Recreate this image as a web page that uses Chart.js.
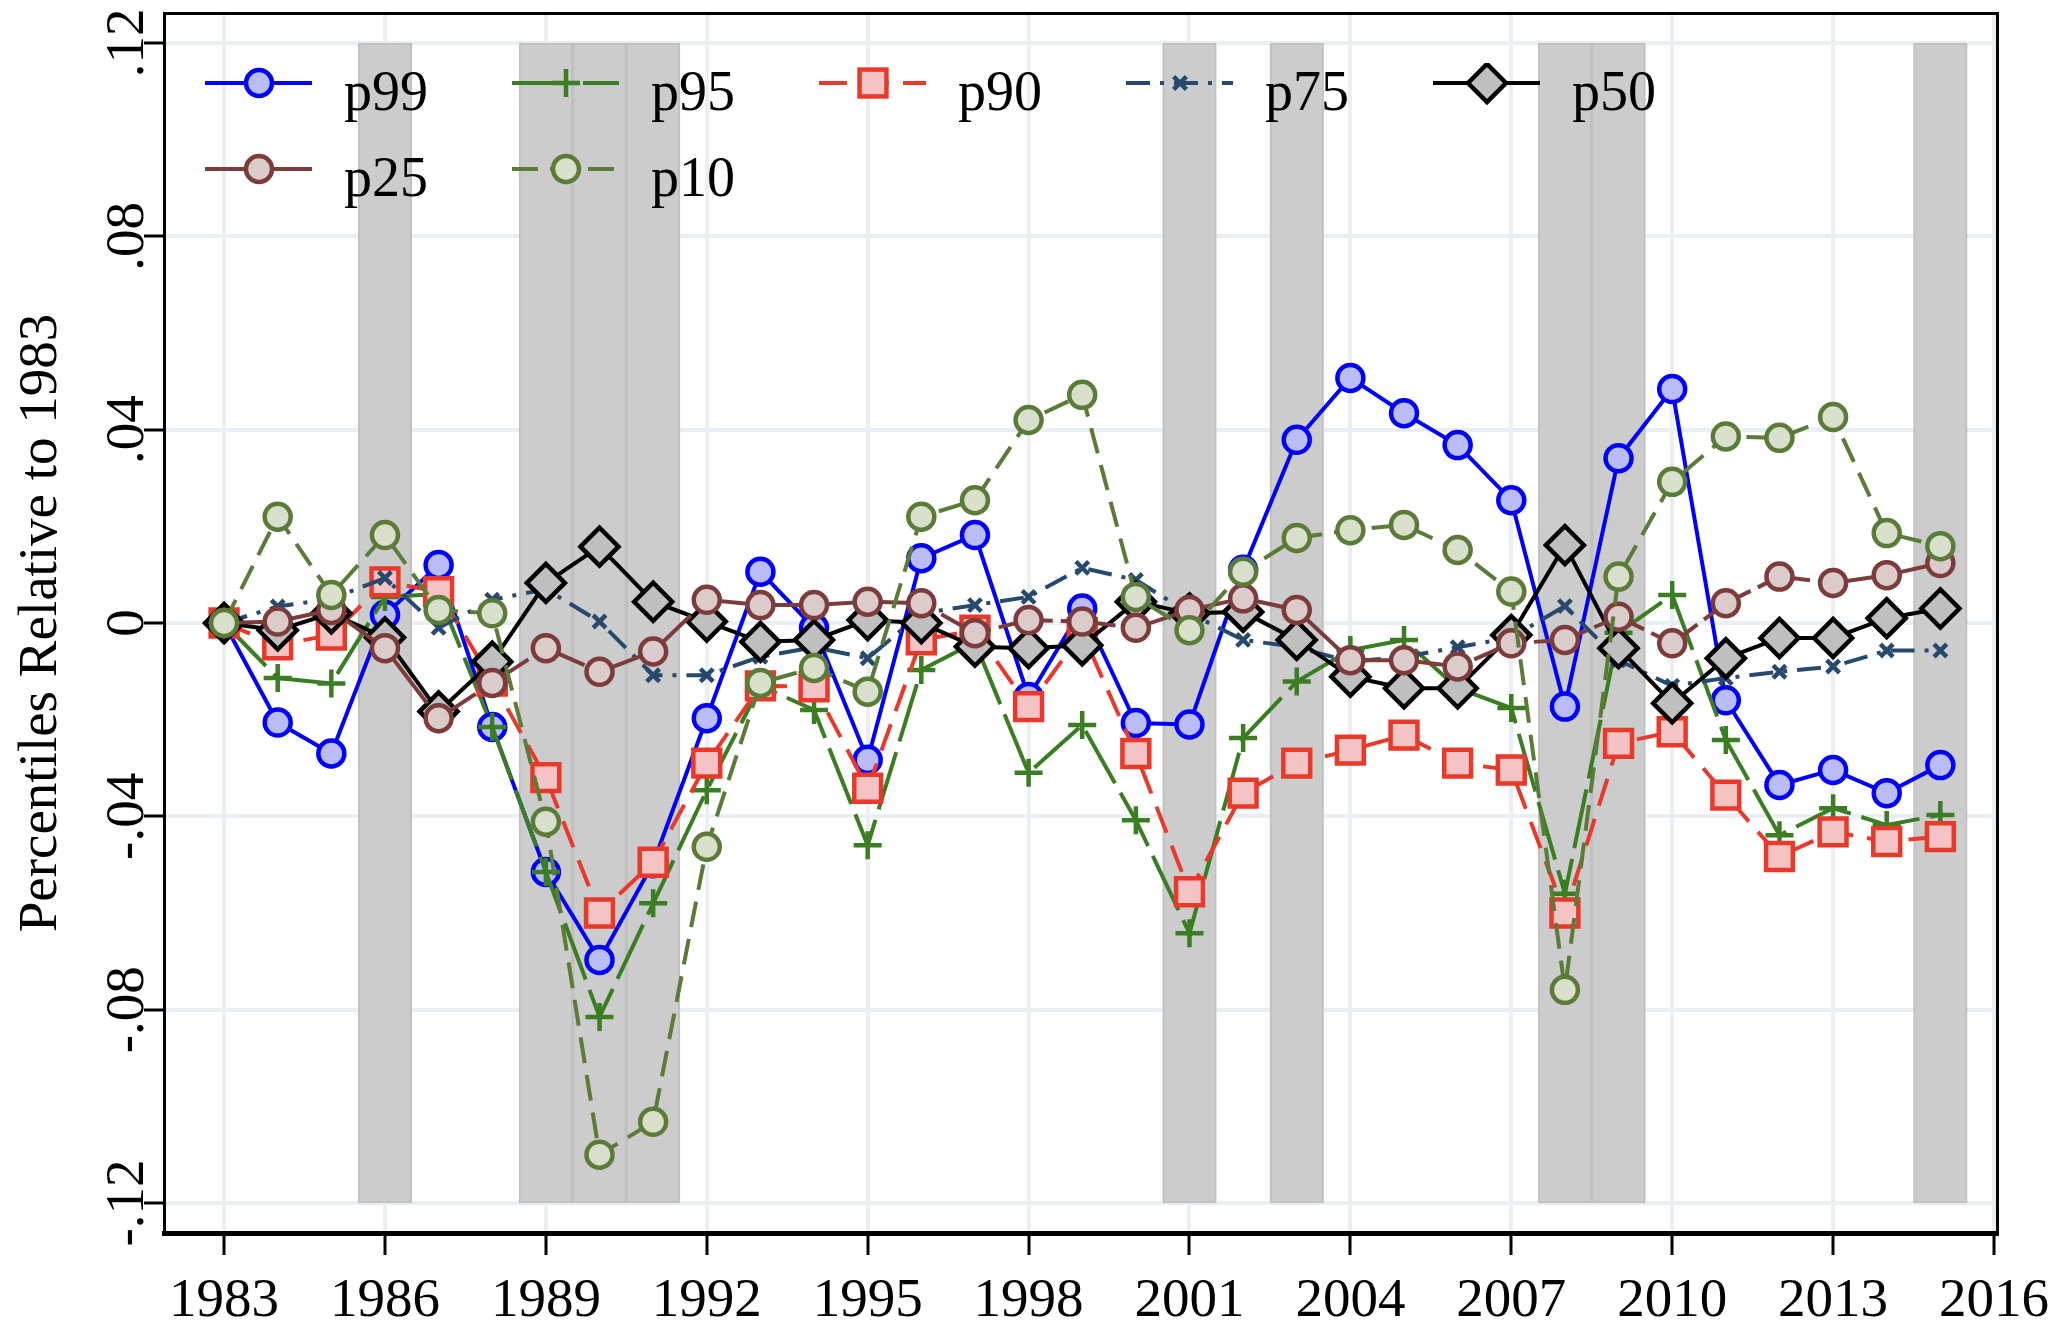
<!DOCTYPE html>
<html>
<head>
<meta charset="utf-8">
<script src="https://cdn.jsdelivr.net/npm/chart.js@4.4.1/dist/chart.umd.min.js"></script>
<style>
  html, body { margin: 0; padding: 0; background: #fff; }
  #wrap { position: relative; width: 2053px; height: 1328px; }
  #legend { position: absolute; left: 0; top: 0; }
  .item { position: absolute; height: 40px; }
  .item svg { position: absolute; left: 0; top: 0; }
  .item span { position: absolute; left: 139px; top: 0; font: 56px/56px "Liberation Serif", "Times New Roman", serif; color: #000; white-space: nowrap; }
</style>
</head>
<body>
<div id="wrap"><canvas id="chart"></canvas><div id="legend"></div></div>
<script>
const years = [1983, 1984, 1985, 1986, 1987, 1988, 1989, 1990, 1991, 1992, 1993, 1994, 1995, 1996, 1997, 1998, 1999,
  2000, 2001, 2002, 2003, 2004, 2005, 2006, 2007, 2008, 2009, 2010, 2011, 2012, 2013, 2014, 2015];

const p99 = [0, -0.0206, -0.027, 0.0017, 0.012, -0.0215, -0.0515, -0.0697, -0.0497, -0.0197,
  0.0106, -0.001, -0.0283, 0.0134, 0.0182, -0.0153, 0.003, -0.0207, -0.021, 0.011,
  0.0379, 0.0507, 0.0434, 0.0368, 0.0254, -0.0173, 0.0341, 0.0484, -0.016, -0.0335,
  -0.0304, -0.0352, -0.0294];
const p95 = [0, -0.0114, -0.0125, 0.0054, 0.006, -0.0215, -0.0515, -0.0815, -0.058, -0.0346,
  -0.013, -0.018, -0.046, -0.0097, -0.004, -0.031, -0.0211, -0.0408, -0.0642, -0.0238,
  -0.0121, -0.0056, -0.0035, -0.0135, -0.0176, -0.056, -0.002, 0.0058, -0.0242, -0.0439,
  -0.0383, -0.0418, -0.0397];
const p90 = [0, -0.0045, -0.0025, 0.0085, 0.0065, -0.012, -0.032, -0.060, -0.0495, -0.029,
  -0.013, -0.0132, -0.0342, -0.0035, -0.0015, -0.0173, -0.002, -0.027, -0.0556, -0.0352,
  -0.029, -0.0263, -0.0232, -0.029, -0.0304, -0.060, -0.0249, -0.0225, -0.0356, -0.0483,
  -0.0432, -0.0452, -0.0442];
const p75 = [0, 0.0034, 0.005, 0.0093, -0.001, 0.0048, 0.007, 0.0003, -0.0108, -0.0108,
  -0.007, -0.005, -0.0073, 0.002, 0.0037, 0.0054, 0.0114, 0.0089, 0.002, -0.0035,
  -0.005, -0.008, -0.007, -0.005, -0.003, 0.0035, -0.0077, -0.013, -0.0114, -0.0101,
  -0.009, -0.0057, -0.0057];
const p50 = [0, -0.0015, 0.002, -0.003, -0.0183, -0.008, 0.0083, 0.0158, 0.0044, 0.0003,
  -0.0039, -0.0035, 0.0006, 0, -0.0049, -0.0052, -0.0046, 0.0044, 0.002, 0.0023,
  -0.0035, -0.0111, -0.0135, -0.0135, -0.0025, 0.0161, -0.0052, -0.0166, -0.0073, -0.0031,
  -0.0031, 0.001, 0.003];
const p25 = [0, 0.0003, 0.0027, -0.0052, -0.0197, -0.0124, -0.0052, -0.0101, -0.0059, 0.0048,
  0.0037, 0.0037, 0.0044, 0.0041, -0.0021, 0.0006, 0.0003, -0.001, 0.0027, 0.0051,
  0.0027, -0.0077, -0.0077, -0.009, -0.0042, -0.0035, 0.0013, -0.0042, 0.0041, 0.0096,
  0.0083, 0.0099, 0.0124];
const p10 = [0, 0.022, 0.0058, 0.0182, 0.0027, 0.002, -0.0411, -0.110, -0.1032, -0.0463,
  -0.0124, -0.0093, -0.0142, 0.022, 0.0254, 0.042, 0.0472, 0.0054, -0.0015, 0.0106,
  0.0176, 0.0192, 0.0203, 0.0151, 0.0065, -0.0759, 0.0096, 0.0292, 0.0386, 0.0383,
  0.0426, 0.0186, 0.0159];

// shaded recession years
const recessionYears = [1986, 1989, 1990, 1991, 2001, 2003, 2008, 2009, 2015];
const recessionSpan = [-0.12, 0.12];

const xTickYears = [1983, 1986, 1989, 1992, 1995, 1998, 2001, 2004, 2007, 2010, 2013, 2016];
const yTickValues = [-0.12, -0.08, -0.04, 0, 0.04, 0.08, 0.12];
const yTickLabels = ['-.12', '-.08', '-.04', '0', '.04', '.08', '.12'];

const serif = "'Liberation Serif', 'Times New Roman', serif";
const gridColor = '#e9eff2';

function lineSet(label, data, color, fill, style, radius, dash, order) {
  return {
    type: 'line',
    label: label,
    data: data,
    borderColor: color,
    borderWidth: 4,
    borderDash: dash,
    pointStyle: style,
    pointRadius: radius,
    pointBorderWidth: 4.5,
    pointBorderColor: color,
    pointBackgroundColor: fill,
    tension: 0,
    order: order
  };
}

const datasets = [
  lineSet('p99', p99, '#0000ff', '#babcf8', 'circle', 13, [], 7),
  lineSet('p95', p95, '#3a7d22', '#3a7d22', 'cross', 14, [60, 11], 6),
  lineSet('p90', p90, '#e8392a', '#f5c3c3', 'rect', 19, [28, 14], 5),
  lineSet('p75', p75, '#27496d', '#27496d', 'crossRot', 9, [24, 10, 4, 10], 4),
  lineSet('p50', p50, '#000000', '#bfbfbf', 'rectRot', 19, [], 3),
  lineSet('p25', p25, '#7d3c3c', '#dccbcb', 'circle', 13, [55, 8], 2),
  lineSet('p10', p10, '#5b7b39', '#d8dfca', 'circle', 13, [26, 12], 1),
  {
    type: 'bar',
    label: 'recession',
    data: recessionYears.map(y => ({ x: y, y: recessionSpan })),
    backgroundColor: '#cccccc',
    borderColor: '#c0c0c0',
    borderWidth: 2,
    borderSkipped: false,
    barPercentage: 1,
    categoryPercentage: 1,
    order: 10
  }
];

function noEdgePadding(s) {
  s.paddingTop = 0;
  s.paddingBottom = 0;
  s.paddingLeft = 0;
  s.paddingRight = 0;
}

const chart = new Chart(document.getElementById('chart'), {
  type: 'line',
  data: { labels: years, datasets: datasets },
  options: {
    responsive: true,
    maintainAspectRatio: false,
    animation: false,
    devicePixelRatio: 1,
    layout: { autoPadding: false, padding: { top: 13, right: 56, left: 0, bottom: 0 } },
    plugins: { legend: { display: false }, tooltip: { enabled: false } },
    scales: {
      x: {
        type: 'linear',
        position: 'bottom',
        offset: false,
        min: 1981.88,
        max: 2016.056,
        afterBuildTicks: s => { s.ticks = xTickYears.map(v => ({ value: v })); },
        afterFit: s => { s.height = 95; noEdgePadding(s); },
        ticks: {
          callback: v => String(v),
          autoSkip: false,
          maxRotation: 0,
          padding: 14,
          color: '#000',
          font: { family: serif, size: 55 }
        },
        grid: { offset: false, color: gridColor, lineWidth: 4, tickColor: '#000', tickWidth: 3, tickLength: 22 },
        border: { color: '#000', width: 5 }
      },
      y: {
        type: 'linear',
        position: 'left',
        min: -0.1262,
        max: 0.1262,
        afterBuildTicks: s => { s.ticks = yTickValues.map(v => ({ value: v })); },
        afterFit: s => { s.width = 164; noEdgePadding(s); },
        ticks: {
          callback: (v, i) => yTickLabels[i],
          minRotation: 90,
          maxRotation: 90,
          crossAlign: 'center',
          padding: -28,
          color: '#000',
          font: { family: serif, size: 55 }
        },
        grid: { color: gridColor, lineWidth: 4, tickColor: '#000', tickWidth: 3, tickLength: 20 },
        border: { color: '#000', width: 3 },
        title: {
          display: true,
          text: 'Percentiles Relative to 1983',
          color: '#000',
          font: { family: serif, size: 55 },
          padding: { top: 9, bottom: 0 }
        }
      },
      xTop: {
        type: 'linear',
        position: 'top',
        offset: false,
        min: 1981.88,
        max: 2016.056,
        afterFit: s => { s.height = 0; noEdgePadding(s); },
        ticks: { display: false },
        grid: { display: false, drawTicks: false },
        border: { color: '#000', width: 3 }
      },
      yRight: {
        type: 'linear',
        position: 'right',
        min: -0.1262,
        max: 0.1262,
        afterFit: s => { s.width = 0; noEdgePadding(s); },
        ticks: { display: false },
        grid: { display: false, drawTicks: false },
        border: { color: '#000', width: 3 }
      }
    }
  }
});

// legend inside the plot: line sample with marker, then label
function markerSvg(ds, cx, cy) {
  const r = ds.pointRadius, c = ds.pointBorderColor, f = ds.pointBackgroundColor, w = ds.pointBorderWidth;
  const st = `stroke="${c}" stroke-width="${w}"`;
  if (ds.pointStyle === 'circle') return `<circle cx="${cx}" cy="${cy}" r="${r}" fill="${f}" ${st}/>`;
  if (ds.pointStyle === 'cross') return `<path d="M${cx - r} ${cy}H${cx + r}M${cx} ${cy - r}V${cy + r}" ${st}/>`;
  if (ds.pointStyle === 'crossRot') {
    const d = r * Math.SQRT1_2;
    return `<path d="M${cx - d} ${cy - d}L${cx + d} ${cy + d}M${cx + d} ${cy - d}L${cx - d} ${cy + d}" ${st}/>`;
  }
  if (ds.pointStyle === 'rect') {
    const s = r * Math.SQRT1_2;
    return `<rect x="${cx - s}" y="${cy - s}" width="${2 * s}" height="${2 * s}" fill="${f}" ${st}/>`;
  }
  return `<polygon points="${cx - r},${cy} ${cx},${cy - r} ${cx + r},${cy} ${cx},${cy + r}" fill="${f}" ${st} stroke-linejoin="miter"/>`;
}

const legendEl = document.getElementById('legend');
const legendCols = 5;
datasets.filter(ds => ds.type === 'line').forEach((ds, i) => {
  const col = i % legendCols, row = Math.floor(i / legendCols);
  const item = document.createElement('div');
  item.className = 'item';
  item.style.left = (205 + 307 * col) + 'px';
  item.style.top = (63 + 86 * row) + 'px';
  const dash = ds.borderDash.length ? `stroke-dasharray="${ds.borderDash.join(' ')}"` : '';
  item.innerHTML =
    `<svg width="110" height="44" viewBox="0 0 110 44">` +
    `<line x1="0" y1="20" x2="107" y2="20" stroke="${ds.borderColor}" stroke-width="${ds.borderWidth}" ${dash}/>` +
    markerSvg(ds, 54, 20) + `</svg><span>${ds.label}</span>`;
  legendEl.appendChild(item);
});
</script>
</body>
</html>
